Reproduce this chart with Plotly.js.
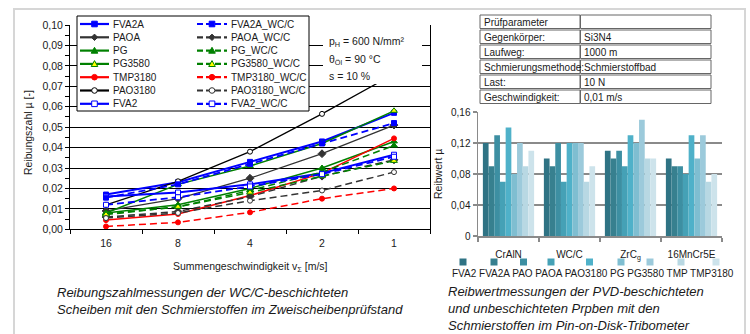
<!DOCTYPE html>
<html><head><meta charset="utf-8">
<script src="https://cdn.plot.ly/plotly-3.0.1.min.js"></script>
<style>html,body{margin:0;padding:0;background:#fff}#chart{width:750px;height:334px}</style>
</head><body><div id="chart"></div>
<script>
// ---------- DATA: left chart (Zweischeibenprüfstand) ----------
const speeds = ['16', '8', '4', '2', '1'];
const FVA2A        = [0.017, 0.023, 0.033, 0.043, 0.057];
const PAOA         = [0.009, 0.015, 0.025, 0.037, 0.051];
const PG           = [0.008, 0.012, 0.020, 0.030, 0.043];
const PG3580       = [0.008, 0.022, 0.031, 0.042, 0.058];
const TMP3180      = [0.0045, 0.0075, 0.0165, 0.0275, 0.0445];
const PAO3180      = [0.012, 0.0235, 0.038, 0.0565, 0.076];
const FVA2         = [0.016, 0.018, 0.022, 0.0275, 0.0365];
const FVA2A_WCC    = [0.0155, 0.022, 0.032, 0.042, 0.052];
const PAOA_WCC     = [0.006, 0.0087, 0.016, 0.026, 0.034];
const PG_WCC       = [0.0075, 0.011, 0.019, 0.028, 0.041];
const PG3580_WCC   = [0.0072, 0.011, 0.018, 0.026, 0.0335];
const TMP3180_WCC  = [0.0014, 0.0034, 0.0083, 0.015, 0.020];
const PAO3180_WCC  = [0.0055, 0.008, 0.014, 0.019, 0.028];
const FVA2_WCC     = [0.012, 0.0157, 0.021, 0.027, 0.0355];
const yTicksLeft = [0, 0.01, 0.02, 0.03, 0.04, 0.05, 0.06, 0.07, 0.08, 0.09, 0.10];

// ---------- DATA: right chart (Pin-on-Disk) ----------
const materials = ['CrAlN', 'WC/C', 'ZrC<sub>g</sub>', '16MnCr5E'];
const pvdFVA2    = [0.12, 0.10, 0.11, 0.10];
const pvdFVA2A   = [0.09, 0.09, 0.10, 0.09];
const pvdPAO     = [0.13, 0.12, 0.11, 0.09];
const pvdPAOA    = [0.07, 0.07, 0.09, 0.08];
const pvdPAO3180 = [0.14, 0.12, 0.13, 0.13];
const pvdPG      = [0.08, 0.12, 0.12, 0.10];
const pvdPG3580  = [0.12, 0.12, 0.15, 0.13];
const pvdTMP     = [0.09, 0.07, 0.10, 0.07];
const pvdTMP3180 = [0.11, 0.09, 0.10, 0.08];
const barNames = ['FVA2', 'FVA2A', 'PAO', 'PAOA', 'PAO3180', 'PG', 'PG3580', 'TMP', 'TMP3180'];
const yTicksRight = [0, 0.04, 0.08, 0.12, 0.16];
const yTickTextRight = ['0', '0,04', '0,08', '0,12', '0,16'];

const tableLabels = ['Prüfparameter', 'Gegenkörper:', 'Laufweg:', 'Schmierungsmethode:', 'Last:', 'Geschwindigkeit:'];
const tableValues = ['', 'Si3N4', '1000 m', 'Schmierstoffbad', '10 N', '0,01 m/s'];

// ---------- helpers / styles ----------
const W = 750, H = 334;
const px = x => x / W, py = y => 1 - y / H;
const FONT = 'Liberation Sans, Arial, sans-serif';
const TXT = '#1a1a1a';
const BLUE = '#0000ff', DGRAY = '#333333', GREEN = '#008000', RED = '#ff0000', BLACK = '#000000';
const DASH = '7px,4px';

const leftSeries = [
  {name: 'FVA2A', y: FVA2A, c: BLUE, dash: 'solid', m: 'square', fill: BLUE, w: 2},
  {name: 'PAOA', y: PAOA, c: DGRAY, dash: 'solid', m: 'diamond', fill: DGRAY, w: 1.3},
  {name: 'PG', y: PG, c: GREEN, dash: 'solid', m: 'triangle-up', fill: GREEN, w: 1.5},
  {name: 'PG3580', y: PG3580, c: GREEN, dash: 'solid', m: 'triangle-up', fill: '#ffff00', w: 1.5},
  {name: 'TMP3180', y: TMP3180, c: RED, dash: 'solid', m: 'circle', fill: RED, w: 1.5},
  {name: 'PAO3180', y: PAO3180, c: BLACK, dash: 'solid', m: 'circle', fill: '#ffffff', w: 1.3},
  {name: 'FVA2', y: FVA2, c: BLUE, dash: 'solid', m: 'square', fill: '#ffffff', w: 2},
  {name: 'FVA2A_WC/C', y: FVA2A_WCC, c: BLUE, dash: DASH, m: 'square', fill: BLUE, w: 1.8},
  {name: 'PAOA_WC/C', y: PAOA_WCC, c: DGRAY, dash: DASH, m: 'diamond', fill: DGRAY, w: 1.5},
  {name: 'PG_WC/C', y: PG_WCC, c: GREEN, dash: DASH, m: 'triangle-up', fill: GREEN, w: 1.5},
  {name: 'PG3580_WC/C', y: PG3580_WCC, c: GREEN, dash: DASH, m: 'triangle-up', fill: '#ffff00', w: 1.5},
  {name: 'TMP3180_WC/C', y: TMP3180_WCC, c: RED, dash: DASH, m: 'circle', fill: RED, w: 1.5},
  {name: 'PAO3180_WC/C', y: PAO3180_WCC, c: DGRAY, dash: DASH, m: 'circle', fill: '#ffffff', w: 1.5},
  {name: 'FVA2_WC/C', y: FVA2_WCC, c: BLUE, dash: DASH, m: 'square', fill: '#ffffff', w: 1.8}
];
const mSize = {'square': 5, 'diamond': 6, 'triangle-up': 6, 'circle': 5};

const traces = [];
leftSeries.forEach(s => {
  traces.push({
    type: 'scatter', mode: 'lines+markers', x: speeds, y: s.y, name: s.name,
    xaxis: 'x', yaxis: 'y', showlegend: false, hoverinfo: 'skip',
    line: {color: s.c, width: s.w, dash: s.dash},
    marker: {symbol: s.m, size: mSize[s.m], color: s.fill, line: {color: s.c, width: 1}}
  });
});

const barSeries = [pvdFVA2, pvdFVA2A, pvdPAO, pvdPAOA, pvdPAO3180, pvdPG, pvdPG3580, pvdTMP, pvdTMP3180];
const barColors = ['#2f7384', '#37808f', '#3d8fa2', '#45a1b6', '#4fb1c9', '#7fbed1', '#9ccadb', '#b8d8e3', '#cde3eb'];
barSeries.forEach((v, i) => {
  traces.push({
    type: 'bar', x: materials, y: v, name: barNames[i], xaxis: 'x2', yaxis: 'y2',
    showlegend: false, hoverinfo: 'skip', marker: {color: barColors[i], line: {width: 0}}
  });
});

// ---------- shapes & annotations ----------
const shapes = [];
const ann = [];
// outer frame
shapes.push({type: 'rect', xref: 'paper', yref: 'paper', x0: px(14), x1: px(745), y0: py(345), y1: py(9),
  line: {color: '#d6d6d6', width: 2}, fillcolor: 'rgba(0,0,0,0)', layer: 'below'});

// parameter text box (covers grid)
shapes.push({type: 'rect', xref: 'paper', yref: 'paper', x0: px(323), x1: px(422), y0: py(84), y1: py(29),
  line: {width: 0}, fillcolor: '#ffffff', layer: 'above'});
const paramText = ['p<sub>H</sub> = 600 N/mm²', 'θ<sub>Öl</sub> = 90 °C', 's = 10 %'];
const paramY = [42, 60, 76];
paramText.forEach((t, i) => ann.push({xref: 'paper', yref: 'paper', x: px(327), y: py(paramY[i]),
  xanchor: 'left', yanchor: 'middle', showarrow: false, text: t, font: {family: FONT, size: 10.5, color: TXT}}));

// legend box left chart
shapes.push({type: 'rect', xref: 'paper', yref: 'paper', x0: px(77), x1: px(309), y0: py(111), y1: py(16),
  line: {color: '#000', width: 1}, fillcolor: '#ffffff', layer: 'above'});
function markerShape(type, cx, cy, fill, color) {
  const s = 2.8;
  const base = {xref: 'paper', yref: 'paper', fillcolor: fill, line: {color: color, width: 1}, layer: 'above'};
  if (type === 'square') return Object.assign({type: 'rect', x0: px(cx - s), x1: px(cx + s), y0: py(cy + s), y1: py(cy - s)}, base);
  if (type === 'circle') return Object.assign({type: 'circle', x0: px(cx - s), x1: px(cx + s), y0: py(cy + s), y1: py(cy - s)}, base);
  if (type === 'diamond') return Object.assign({type: 'path', path: `M${px(cx)},${py(cy - 3.2)} L${px(cx + 3.2)},${py(cy)} L${px(cx)},${py(cy + 3.2)} L${px(cx - 3.2)},${py(cy)} Z`}, base);
  return Object.assign({type: 'path', path: `M${px(cx)},${py(cy - 3.3)} L${px(cx + 3.3)},${py(cy + 2.6)} L${px(cx - 3.3)},${py(cy + 2.6)} Z`}, base);
}
leftSeries.forEach((s, i) => {
  const col = i < 7 ? 0 : 1, row = i % 7;
  const y = 24 + row * 13.3;
  const x0 = col === 0 ? 80 : 197, x1 = col === 0 ? 109 : 227;
  shapes.push({type: 'line', xref: 'paper', yref: 'paper', x0: px(x0), x1: px(x1), y0: py(y), y1: py(y),
    line: {color: s.c, width: 2.2, dash: s.dash === 'solid' ? 'solid' : '6px,3px'}, layer: 'above'});
  shapes.push(markerShape(s.m === 'triangle-up' ? 'triangle' : s.m, (x0 + x1) / 2, y, s.fill, s.c));
  ann.push({xref: 'paper', yref: 'paper', x: px(x1 + 2), y: py(y), xanchor: 'left', yanchor: 'middle',
    showarrow: false, text: s.name, font: {family: FONT, size: 10, color: TXT}});
});

// axis titles
ann.push({xref: 'paper', yref: 'paper', x: px(28), y: py(133), textangle: -90, showarrow: false,
  text: 'Reibungszahl µ [-]', font: {family: FONT, size: 10.5, color: TXT}, xanchor: 'center', yanchor: 'middle'});
ann.push({xref: 'paper', yref: 'paper', x: px(250), y: py(267), showarrow: false,
  text: 'Summengeschwindigkeit v<sub>Σ</sub> [m/s]', font: {family: FONT, size: 10.5, color: TXT}, xanchor: 'center', yanchor: 'middle'});
ann.push({xref: 'paper', yref: 'paper', x: px(438), y: py(174), textangle: -90, showarrow: false,
  text: 'Reibwert µ', font: {family: FONT, size: 10.5, color: TXT}, xanchor: 'center', yanchor: 'middle'});

// captions
ann.push({xref: 'paper', yref: 'paper', x: px(55), y: py(283), xanchor: 'left', yanchor: 'top', align: 'left', showarrow: false,
  text: '<i>Reibungszahlmessungen der WC/C-beschichteten<br>Scheiben mit den Schmierstoffen im Zweischeibenprüfstand</i>',
  font: {family: FONT, size: 13, color: TXT}});
ann.push({xref: 'paper', yref: 'paper', x: px(446), y: py(282), xanchor: 'left', yanchor: 'top', align: 'left', showarrow: false,
  text: '<i>Reibwertmessungen der PVD-beschichteten<br>und unbeschichteten Prpben mit den<br>Schmierstoffen im Pin-on-Disk-Tribometer</i>',
  font: {family: FONT, size: 13, color: TXT}});

// table
const tX0 = 480, tX1 = 580, tX2 = 711, tY0 = 15, rowH = 15;
tableLabels.forEach((lab, i) => {
  const y0 = tY0 + i * rowH, y1 = y0 + rowH - 1.5;
  [[tX0, tX1], [tX1 + 0.5, tX2]].forEach(([a, b]) => shapes.push({type: 'rect', xref: 'paper', yref: 'paper',
    x0: px(a), x1: px(b), y0: py(y1), y1: py(y0), line: {color: '#666', width: 1}, fillcolor: '#ffffff', layer: 'above'}));
  ann.push({xref: 'paper', yref: 'paper', x: px(tX0 + 2), y: py((y0 + y1) / 2 + 0.5), xanchor: 'left', yanchor: 'middle',
    showarrow: false, text: lab, font: {family: FONT, size: 10, color: TXT}});
  if (tableValues[i]) ann.push({xref: 'paper', yref: 'paper', x: px(tX1 + 2), y: py((y0 + y1) / 2 + 0.5), xanchor: 'left', yanchor: 'middle',
    showarrow: false, text: tableValues[i], font: {family: FONT, size: 10, color: TXT}});
});

// right legend (square above label); labels laid out in one line
const barLegendX = [463, 494, 523.5, 551, 589.5, 621, 650, 681, 716];
barNames.forEach((n, i) => {
  const cx = barLegendX[i];
  shapes.push({type: 'rect', xref: 'paper', yref: 'paper', x0: px(cx - 3.5), x1: px(cx + 3.5), y0: py(265.5), y1: py(258.5),
    line: {width: 0}, fillcolor: barColors[i], layer: 'above'});
});
ann.push({xref: 'paper', yref: 'paper', x: px(450), y: py(273.5), xanchor: 'left', yanchor: 'middle', showarrow: false,
  text: barNames.join(' '), font: {family: FONT, size: 10, color: TXT}});

const layout = {
  width: W, height: H, margin: {l: 0, r: 0, t: 0, b: 0},
  paper_bgcolor: '#ffffff', plot_bgcolor: 'rgba(0,0,0,0)',
  separators: ',.', showlegend: false, hovermode: false,
  font: {family: FONT, size: 10.5, color: TXT},
  bargap: 0.16, bargroupgap: 0, barmode: 'group',
  xaxis: {domain: [px(70), px(430)], anchor: 'y', type: 'category', range: [-0.5, 4.5],
    tickson: 'boundaries', ticks: 'outside', ticklen: 4, tickcolor: '#000', showline: true, linecolor: '#000', linewidth: 1,
    showgrid: false, zeroline: false, tickfont: {family: FONT, size: 10.5, color: TXT}, ticklabelstandoff: 4, fixedrange: true},
  yaxis: {domain: [py(229.3), py(25)], anchor: 'x', range: [0, 0.1], tickvals: yTicksLeft, tickformat: '.2f',
    ticks: 'outside', ticklen: 4, tickcolor: '#000', showline: true, mirror: true, linecolor: '#000', linewidth: 1,
    showgrid: true, gridcolor: '#000', gridwidth: 1, zeroline: false,
    minor: {dtick: 0.005, tick0: 0, ticks: 'outside', ticklen: 4, tickcolor: '#000', showgrid: false},
    tickfont: {family: FONT, size: 10.5, color: TXT}, fixedrange: true},
  yaxis3: {overlaying: 'y', anchor: 'x', range: [0, 0.1], dtick: 0.005, tick0: 0, ticks: 'inside', ticklen: 4, tickcolor: '#000',
    showticklabels: false, showgrid: false, zeroline: false, showline: false, fixedrange: true},
  xaxis2: {domain: [px(478), px(722)], anchor: 'y2', type: 'category', range: [-0.5, 3.5],
    tickson: 'boundaries', ticks: 'outside', ticklen: 4, tickcolor: '#8a8a8a', tickwidth: 1.5, showline: true, linecolor: '#8a8a8a', linewidth: 2,
    showgrid: false, zeroline: false, tickfont: {family: FONT, size: 10, color: TXT}, ticklabelstandoff: 8, fixedrange: true},
  yaxis2: {domain: [py(236), py(112)], anchor: 'x2', range: [0, 0.16], tickvals: yTicksRight, ticktext: yTickTextRight,
    ticks: 'outside', ticklen: 4, tickcolor: '#8a8a8a', tickwidth: 1.5, showline: true, linecolor: '#8a8a8a', linewidth: 1.5,
    showgrid: true, gridcolor: '#8a8a8a', gridwidth: 2, zeroline: false, tickfont: {family: FONT, size: 10, color: TXT}, fixedrange: true},
  shapes: shapes, annotations: ann
};
Plotly.newPlot('chart', traces, layout, {staticPlot: true, displayModeBar: false});
</script></body></html>
